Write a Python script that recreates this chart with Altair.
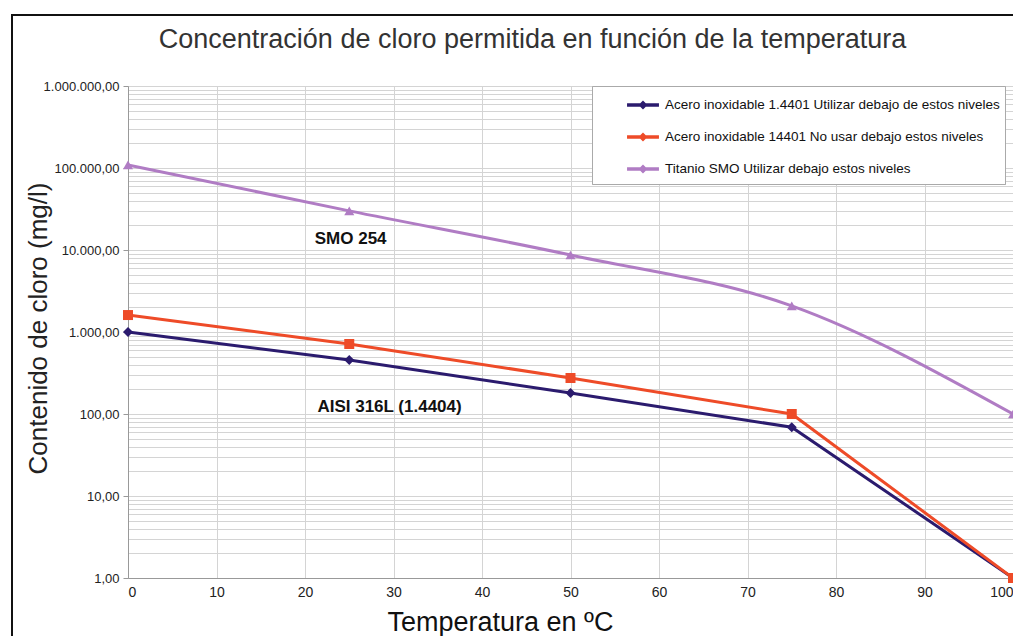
import altair as alt
import pandas as pd

temps = [0, 25, 50, 75, 100]
series_names = [
    "Acero inoxidable 1.4401 Utilizar debajo de estos niveles",
    "Acero inoxidable 14401 No usar debajo estos niveles",
    "Titanio SMO Utilizar debajo estos niveles",
]
acero_usar = [1000, 456, 180, 69, 1]
acero_no = [1610, 714, 275, 100, 1]
titanio = [109000, 30000, 8700, 2080, 100]
colors = ["#2B1B6E", "#EE4B28", "#B07CC4"]
shapes_ = ["diamond", "square", "triangle-up"]

ann_text = ["SMO 254", "AISI 316L (1.4404)"]
ann_x = [21.1, 21.4]
ann_y = [13600, 122]

y_ticks = []
for d in [1, 10, 100, 1000, 10000, 100000]:
    for m in range(1, 10):
        y_ticks.append(d * m)
y_ticks.append(1000000)
major = [1, 10, 100, 1000, 10000, 100000, 1000000]
major_test = "indexof(%s, datum.value) >= 0" % str(major)

rows = []
for name, vals in zip(series_names, [acero_usar, acero_no, titanio]):
    for t, v in zip(temps, vals):
        rows.append({"serie": name, "t": t, "v": v})
df = pd.DataFrame(rows)
ann = pd.DataFrame({"txt": ann_text, "x": ann_x, "y": ann_y})

# legend symbol: a short line with a small marker on it
leg_symbol = "M-1.33,0H1.33 M0,-0.17L0.17,0L0,0.17L-0.17,0Z"

xs = alt.X("t:Q", scale=alt.Scale(domain=[0, 100], nice=False),
           axis=alt.Axis(title="Temperatura en ºC", values=list(range(0, 101, 10)),
                         titleFontSize=27, titleFont="Liberation Sans Narrow, Liberation Sans",
                         titleFontWeight="normal",
                         titleColor="#111", titleX=372, titleY=44, titleBaseline="middle",
                         titleAnchor="start", titleAlign="center",
                         labelFontSize=14, labelFont="Liberation Sans Narrow, Liberation Sans",
                         labelColor="#222",
                         labelPadding=7, ticks=False, domainColor="#999",
                         gridColor="#d4d4d4"))
ys = alt.Y("v:Q", scale=alt.Scale(type="log", domain=[1, 1000000], nice=False),
           axis=alt.Axis(title="Contenido de cloro (mg/l)", values=y_ticks,
                         format=",.2f",
                         labelExpr=major_test + " ? datum.label : ''",
                         titleFontSize=26, titleFont="Liberation Sans", titleFontWeight="normal",
                         titleColor="#222", titleX=-90, titleY=242, titleAngle=-90,
                         titleAlign="center", titleBaseline="middle",
                         labelFontSize=13, labelFont="Liberation Sans", labelColor="#222",
                         labelPadding=4, tickSize=5, tickColor="#999",
                         tickOpacity={"condition": {"test": major_test, "value": 1}, "value": 0},
                         domainColor="#999",
                         gridColor="#d4d4d4"))

dom = series_names

legend = alt.Legend(
    title=None, orient="none", legendX=464, legendY=0,
    symbolType=leg_symbol, symbolStrokeWidth=3.5, symbolSize=576,
    labelFontSize=13.5, labelFont="Liberation Sans",
    labelColor="#111", labelLimit=500, rowPadding=8,
    padding=5, symbolOffset=32, labelOffset=8,
    strokeColor="#aaa", fillColor="white",
)

base_line = alt.Chart(df).mark_line(strokeWidth=3).encode(
    x=xs, y=ys,
    stroke=alt.Stroke("serie:N", scale=alt.Scale(domain=dom, range=colors), legend=legend),
    detail="serie:N",
)
sel_tit = alt.datum.serie == series_names[2]
lines_steel = base_line.transform_filter(~sel_tit)
lines_tit = base_line.transform_filter(sel_tit).mark_line(strokeWidth=3, interpolate="monotone")

point_layers = []
for name, shp in zip(series_names, shapes_):
    point_layers.append(
        alt.Chart(df).transform_filter(alt.datum.serie == name)
        .mark_point(filled=True, opacity=1, size=100, shape=shp)
        .encode(x="t:Q", y="v:Q",
                color=alt.Color("serie:N", scale=alt.Scale(domain=dom, range=colors), legend=None))
    )

texts = alt.Chart(ann).mark_text(align="left", baseline="middle", fontSize=17,
                                 fontWeight="bold", font="Liberation Sans", color="#111").encode(
    x="x:Q", y="y:Q", text="txt:N")

frame = alt.Chart(ann).mark_rect(fill=None, stroke="#111", strokeWidth=2).encode(
    x=alt.value(-116), x2=alt.value(910), y=alt.value(-71), y2=alt.value(570))

chart = alt.layer(frame, lines_steel, lines_tit, *point_layers, texts).properties(
    width=885, height=492,
    autosize=alt.AutoSizeParams(type="none"),
    padding={"left": 120, "top": 78, "right": 0, "bottom": 60},
    title=alt.TitleParams("Concentración de cloro permitida en función de la temperatura",
                          fontSize=27, font="Liberation Sans", fontWeight="normal",
                          color="#333", anchor="middle", dx=-38, offset=-40),
).resolve_scale(stroke="independent").configure_view(stroke="#888").configure(
    locale={"number": {"decimal": ",", "thousands": ".", "grouping": [3], "currency": ["", " €"]}},
    background="white",
)

chart.save("out.html", embed_options={"renderer": "svg", "actions": False})
